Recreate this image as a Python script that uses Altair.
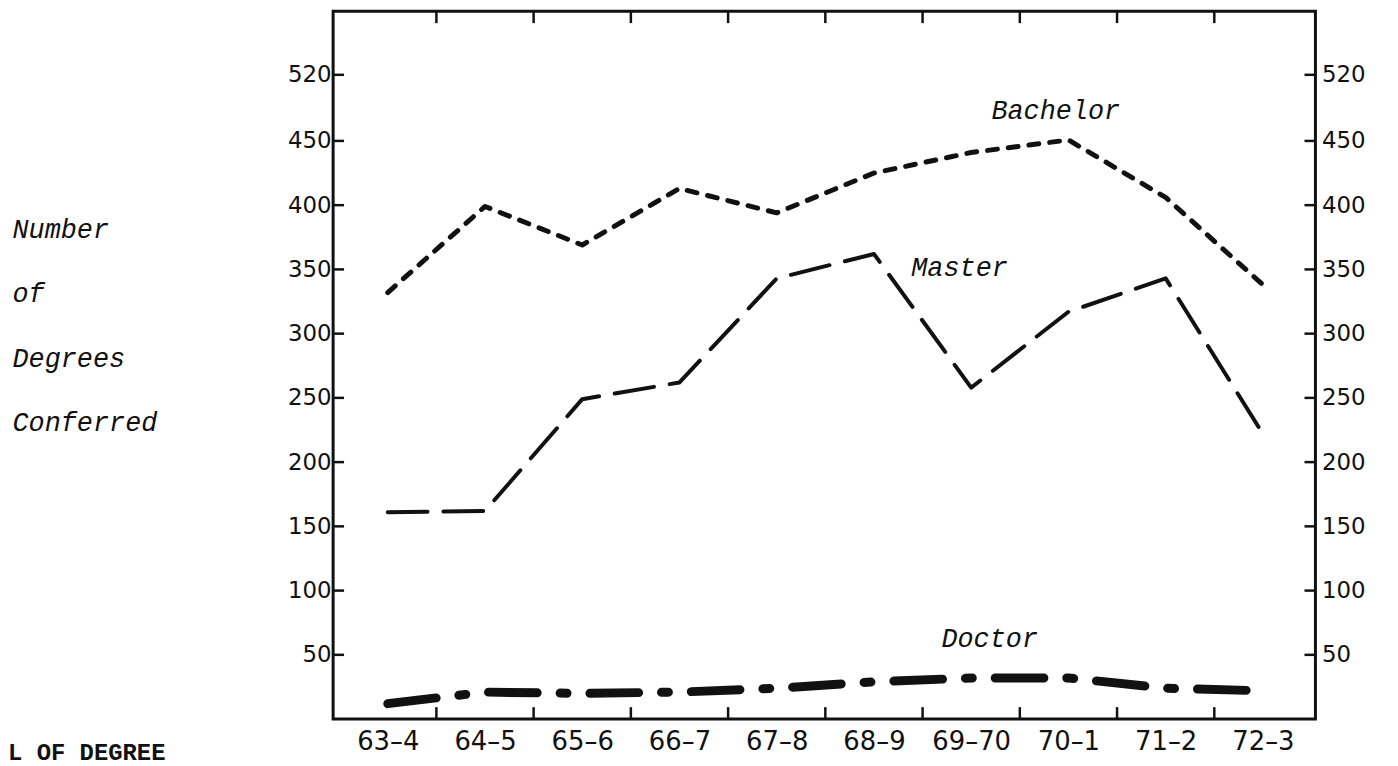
import altair as alt
import pandas as pd

# ---- data ----
years = ["63–4", "64–5", "65–6", "66–7", "67–8", "68–9", "69–70", "70–1", "71–2", "72–3"]
bachelor = [332, 399, 369, 413, 394, 425, 441, 451, 406, 338]
master = [161, 162, 249, 262, 343, 362, 258, 317, 343, 222]
doctor = [12, 21, 20, 21, 24, 29, 32, 32, 24, 22]

y_ticks = [50, 100, 150, 200, 250, 300, 350, 400, 450, 520]
x_bounds = [0.5, 1.5, 2.5, 3.5, 4.5, 5.5, 6.5, 7.5, 8.5]

series_names = ["Bachelor", "Master", "Doctor"]
name_x = [6.87, 5.88, 6.19]
name_y = [482, 351, 62]

y_title = ["Number", "of", "Degrees", "Conferred"]
footer = ["L OF DEGREE"]

# ---- layout ----
W, H = 988, 712
INK = "#111111"
TYPE_FONT = "Liberation Mono"

idx = list(range(len(years)))
xscale = alt.Scale(domain=[-0.562, 9.54], nice=False, zero=False)
# the hand-drawn axis is not uniform above 450 (the "520" mark sits low)
yscale = alt.Scale(domain=[0, 450, 520, 587], range=[H, 130.5, 64, 0], nice=False, zero=False)

label_expr = "[" + ",".join("'%s'" % y for y in years) + "][datum.value]"

x_axis = alt.Axis(
    orient="bottom", values=idx, labelExpr=label_expr, ticks=False, domain=False,
    grid=False, labelFont="DejaVu Sans", labelFontSize=26, labelColor=INK,
    labelPadding=10, labelFlush=False, labelOverlap=False, title=None,
)


def series(vals, dash, width, with_axis=False):
    df = pd.DataFrame({"i": idx, "v": vals, "year": years})
    return alt.Chart(df).mark_line(
        color=INK, strokeWidth=width, strokeDash=dash, strokeCap="round", strokeJoin="round"
    ).encode(
        x=alt.X("i:Q", scale=xscale, axis=x_axis if with_axis else None),
        y=alt.Y("v:Q", scale=yscale, axis=None),
        order="i:Q",
    )


bach_line = series(bachelor, [10, 11], 5, with_axis=True)
mast_line = series(master, [40, 16], 4)
doc_line = series(doctor, [49, 23, 7, 23], 9)

ytick_df = pd.DataFrame({"v": y_ticks})
left_axis = alt.Axis(
    orient="left", values=y_ticks, ticks=False, domain=False, grid=False,
    labelFont="DejaVu Sans", labelFontSize=23, labelColor=INK, labelPadding=2,
    labelFlush=False, labelOverlap=False,
    title=y_title, titleAngle=0, titleX=-323, titleY=228, titleAlign="left",
    titleBaseline="alphabetic", titleFont=TYPE_FONT, titleFontStyle="italic",
    titleFontWeight="normal", titleFontSize=27, titleLineHeight=64.5, titleColor=INK,
)
right_axis = alt.Axis(
    orient="right", values=y_ticks, ticks=False, domain=False, grid=False,
    labelFont="DejaVu Sans", labelFontSize=23, labelColor=INK, labelPadding=6,
    labelFlush=False, labelOverlap=False, title=None,
)

left_ticks = alt.Chart(ytick_df).mark_rule(color=INK, strokeWidth=2.5).encode(
    y=alt.Y("v:Q", scale=yscale, axis=left_axis),
    x=alt.value(0), x2=alt.value(11),
)
right_ticks = alt.Chart(ytick_df).mark_rule(color=INK, strokeWidth=2.5).encode(
    y=alt.Y("v:Q", scale=yscale, axis=right_axis),
    x=alt.value(W - 11), x2=alt.value(W),
)

xb_df = pd.DataFrame({"b": x_bounds})
bottom_ticks = alt.Chart(xb_df).mark_rule(color=INK, strokeWidth=2.5).encode(
    x=alt.X("b:Q", scale=xscale, axis=None),
    y=alt.value(H - 12), y2=alt.value(H),
)
top_ticks = alt.Chart(xb_df).mark_rule(color=INK, strokeWidth=2.5).encode(
    x=alt.X("b:Q", scale=xscale, axis=None),
    y=alt.value(0), y2=alt.value(12),
)

names_df = pd.DataFrame({"t": series_names, "x": name_x, "y": name_y})
names = alt.Chart(names_df).mark_text(
    font=TYPE_FONT, fontStyle="italic", fontSize=27, color=INK, align="center", baseline="middle"
).encode(
    x=alt.X("x:Q", scale=xscale, axis=None),
    y=alt.Y("y:Q", scale=yscale, axis=None),
    text="t:N",
)

foot_df = pd.DataFrame({"t": footer})
foot = alt.Chart(foot_df).mark_text(
    font=TYPE_FONT, fontWeight="bold", fontSize=24, color=INK, align="left", baseline="alphabetic"
).encode(
    x=alt.value(-327), y=alt.value(H + 41), text="t:N",
)

chart = alt.layer(
    bach_line, mast_line, doc_line, left_ticks, right_ticks, bottom_ticks, top_ticks, names, foot
).resolve_axis(
    x="independent", y="independent"
).properties(
    width=W, height=H,
    background="white",
    autosize=alt.AutoSizeParams(type="none"),
    padding={"left": 327, "top": 1, "right": 75, "bottom": 45},
).configure_view(
    stroke=INK, strokeWidth=3, fill="white"
)

chart.save("out.html", embed_options={"renderer": "svg", "actions": False})
